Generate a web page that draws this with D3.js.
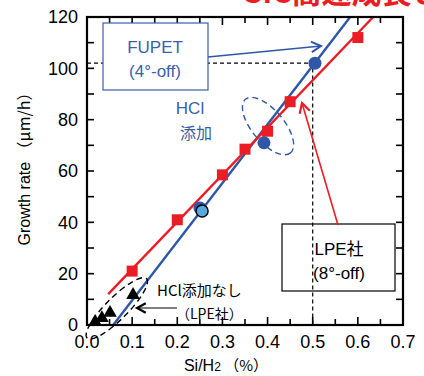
<!DOCTYPE html>
<html>
<head>
<meta charset="utf-8">
<script src="https://cdn.jsdelivr.net/npm/d3@7"></script>
<style>
  body { margin: 0; background: #fff; }
  svg text { font-family: "Liberation Sans", Arial, "Noto Sans CJK JP", sans-serif; }
  .jp { font-family: "Noto Sans CJK JP", "Liberation Sans", sans-serif; }
</style>
</head>
<body>
<div id="chart"></div>
<script>
// values
var xTicks = [0, 0.1, 0.2, 0.3, 0.4, 0.5, 0.6, 0.7]
var yTicks = [0, 20, 40, 60, 80, 100, 120]

// LPE社 (8°-off), red squares
var lpeX = [0.1, 0.2, 0.3, 0.35, 0.4, 0.45, 0.6]
var lpeY = [21, 41, 58.5, 68.5, 75.5, 87, 112]
var lpeFitX = [0.047, 0.634]
var lpeFitY = [12, 120]

// FUPET (4°-off), blue circles
var fupetX = [0.25, 0.392, 0.505]
var fupetY = [45.6, 71, 102]
var fupetFitX = [0.058, 0.583]
var fupetFitY = [0, 120]
var lightX = [0.255]
var lightY = [44.4]

// HCl添加なし (LPE社), black triangles
var noHclX = [0.018, 0.033, 0.051, 0.102]
var noHclY = [1.2, 2.7, 4.7, 11.7]

// dashed guide to the 0.5 point
var guideX = [0, 0.5, 0.5]
var guideY = [102, 102, 0]

var width = 424, height = 376
var blue = '#2f57a8', red = '#ec1c24', textBlue = '#3a5fae'

var x = d3.scaleLinear().domain([0, 0.7]).range([87, 403])
var y = d3.scaleLinear().domain([0, 120]).range([325, 17])

var svg = d3.select('#chart').append('svg').attr('width', width).attr('height', height)

// clipped red heading at the very top
svg.append('text').attr('class', 'jp')
  .attr('x', 244).attr('y', 3)
  .attr('fill', red).attr('font-weight', 'bold').attr('font-size', 30)
  .text('SiC高速成長との比較')

// ticks, all pointing inward
var tk = svg.append('g').attr('stroke', '#000').attr('stroke-width', 1.6)
d3.range(0, 0.7001, 0.05).forEach(function(v, i) {
  var len = i % 2 == 0 ? 8 : 6
  tk.append('line').attr('x1', x(v)).attr('x2', x(v)).attr('y1', y(0)).attr('y2', y(0) - len)
  tk.append('line').attr('x1', x(v)).attr('x2', x(v)).attr('y1', y(120)).attr('y2', y(120) + len)
})
d3.range(0, 120.01, 10).forEach(function(v) {
  tk.append('line').attr('x1', x(0)).attr('x2', x(0) + 7).attr('y1', y(v)).attr('y2', y(v))
  tk.append('line').attr('x1', x(0.7)).attr('x2', x(0.7) - 7).attr('y1', y(v)).attr('y2', y(v))
})

// tick labels
svg.append('g').selectAll('text').data(yTicks).join('text')
  .attr('x', 78).attr('y', d => y(d)).attr('dy', '0.36em')
  .attr('text-anchor', 'end').attr('font-size', 18).text(d => d)
svg.append('g').selectAll('text').data(xTicks).join('text')
  .attr('x', d => x(d)).attr('y', 348)
  .attr('text-anchor', 'middle').attr('font-size', 18).text(d => d.toFixed(1))

// axis titles
var xt = svg.append('text').attr('x', 226).attr('y', 371).attr('text-anchor', 'middle').attr('font-size', 16)
xt.append('tspan').text('Si/H')
xt.append('tspan').attr('font-size', 12).text('2')
xt.append('tspan').attr('class', 'jp').attr('font-size', 15).text(' （%）')
svg.append('text').attr('transform', 'translate(30,165) rotate(-90)')
  .attr('text-anchor', 'middle').attr('font-size', 16)
  .html('Growth rate <tspan class="jp">（μm/h）</tspan>')

// dashed guide
var line = d3.line().x(d => x(d[0])).y(d => y(d[1]))
svg.append('path').datum(d3.zip(guideX, guideY)).attr('d', line)
  .attr('fill', 'none').attr('stroke', '#000').attr('stroke-width', 1.2).attr('stroke-dasharray', '4,3')

// fit lines
svg.append('path').datum(d3.zip(fupetFitX, fupetFitY)).attr('d', line)
  .attr('fill', 'none').attr('stroke', blue).attr('stroke-width', 2.4)
svg.append('path').datum(d3.zip(lpeFitX, lpeFitY)).attr('d', line)
  .attr('fill', 'none').attr('stroke', red).attr('stroke-width', 2.4)

// points
svg.append('g').selectAll('rect').data(d3.zip(lpeX, lpeY)).join('rect')
  .attr('x', d => x(d[0]) - 5.5).attr('y', d => y(d[1]) - 5.5)
  .attr('width', 11).attr('height', 11).attr('fill', red)
svg.append('g').selectAll('circle').data(d3.zip(fupetX, fupetY)).join('circle')
  .attr('cx', d => x(d[0])).attr('cy', d => y(d[1])).attr('r', 6.5).attr('fill', blue)
svg.append('g').selectAll('circle').data(d3.zip(lightX, lightY)).join('circle')
  .attr('cx', d => x(d[0])).attr('cy', d => y(d[1])).attr('r', 6)
  .attr('fill', '#5aa7dd').attr('stroke', '#000').attr('stroke-width', 1.4)
svg.append('g').selectAll('path').data(d3.zip(noHclX, noHclY)).join('path')
  .attr('transform', d => 'translate(' + x(d[0]) + ',' + y(d[1]) + ')')
  .attr('d', d3.symbol(d3.symbolTriangle, 80)).attr('fill', '#000')

// frame
svg.append('rect').attr('x', x(0)).attr('y', y(120))
  .attr('width', x(0.7) - x(0)).attr('height', y(0) - y(120))
  .attr('fill', 'none').attr('stroke', '#000').attr('stroke-width', 2.2)

// dashed ellipses
svg.append('ellipse').attr('transform', 'translate(' + x(0.401) + ',' + y(77.5) + ') rotate(50)')
  .attr('rx', 35).attr('ry', 16).attr('fill', 'none')
  .attr('stroke', blue).attr('stroke-width', 1.4).attr('stroke-dasharray', '6,4')
svg.append('ellipse').attr('transform', 'translate(' + x(0.066) + ',' + y(6.5) + ') rotate(-45)')
  .attr('rx', 42).attr('ry', 11).attr('fill', 'none')
  .attr('stroke', '#000').attr('stroke-width', 1.4).attr('stroke-dasharray', '6,4')

function arrow(x1, y1, x2, y2, color, w, hw, head) {
  var a = Math.atan2(y2 - y1, x2 - x1)
  svg.append('line').attr('x1', x1).attr('y1', y1).attr('x2', x2).attr('y2', y2)
    .attr('stroke', color).attr('stroke-width', w)
  var p = d3.path()
  p.moveTo(x2 - head * Math.cos(a - 0.5), y2 - head * Math.sin(a - 0.5))
  p.lineTo(x2, y2)
  p.lineTo(x2 - head * Math.cos(a + 0.5), y2 - head * Math.sin(a + 0.5))
  svg.append('path').attr('d', p.toString()).attr('fill', 'none')
    .attr('stroke', color).attr('stroke-width', hw).attr('stroke-linejoin', 'miter')
}

// FUPET box
svg.append('rect').attr('x', 103).attr('y', 23).attr('width', 105).attr('height', 67)
  .attr('fill', '#fff').attr('stroke', textBlue).attr('stroke-width', 1.2)
svg.append('text').attr('x', 155).attr('y', 53).attr('text-anchor', 'middle')
  .attr('font-size', 17).attr('fill', textBlue).text('FUPET')
svg.append('text').attr('x', 155).attr('y', 77).attr('text-anchor', 'middle')
  .attr('font-size', 17).attr('fill', textBlue).text('(4°-off)')
arrow(208, 57, 321, 46, blue, 1.6, 2, 11)

svg.append('text').attr('x', 190).attr('y', 114).attr('text-anchor', 'middle')
  .attr('font-size', 17).attr('fill', textBlue).text('HCl')
svg.append('text').attr('class', 'jp').attr('x', 196).attr('y', 139).attr('text-anchor', 'middle')
  .attr('font-size', 16).attr('fill', textBlue).text('添加')

// LPE box
svg.append('rect').attr('x', 282).attr('y', 224).attr('width', 113).attr('height', 67)
  .attr('fill', 'none').attr('stroke', '#000').attr('stroke-width', 1.2)
svg.append('text').attr('x', 339).attr('y', 255).attr('text-anchor', 'middle')
  .attr('font-size', 17).html('LPE<tspan class="jp">社</tspan>')
svg.append('text').attr('x', 339).attr('y', 279).attr('text-anchor', 'middle')
  .attr('font-size', 17).text('(8°-off)')
arrow(338, 225, 302, 103, red, 1.6, 2.2, 11)

// no-HCl note
svg.append('text').attr('class', 'jp').attr('x', 157).attr('y', 296)
  .attr('font-size', 15).text('HCl添加なし')
svg.append('text').attr('class', 'jp').attr('x', 176).attr('y', 319)
  .attr('font-size', 14).text('（LPE社）')
arrow(177, 308, 137, 308, '#000', 1, 2.2, 10)
</script>
</body>
</html>
